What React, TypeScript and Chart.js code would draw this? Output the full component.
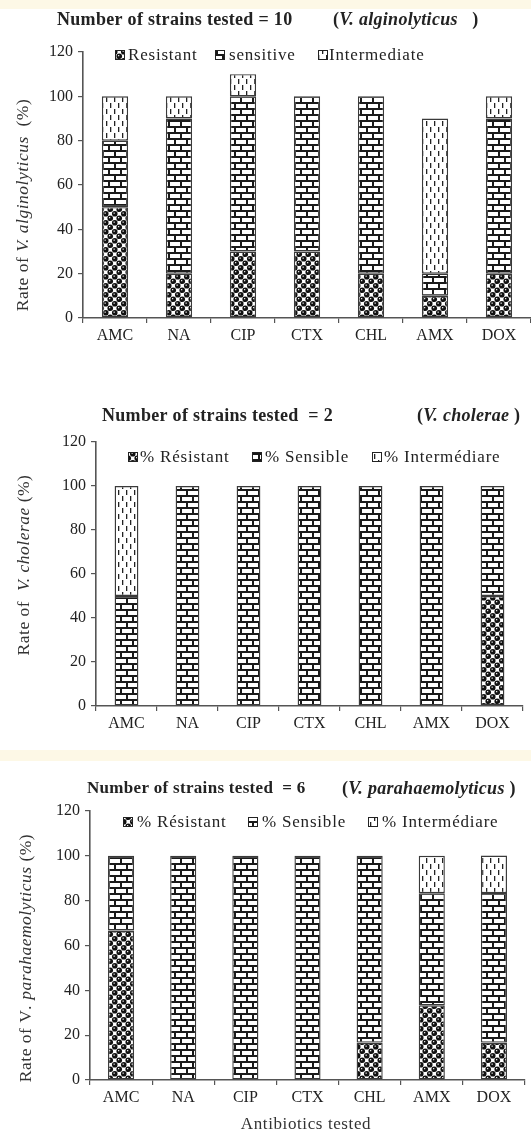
import React, { useEffect, useRef } from 'react';
import { Chart, registerables } from 'chart.js';

Chart.register(...registerables);

// ---------------- DATA ----------------
const categories = ['AMC', 'NA', 'CIP', 'CTX', 'CHL', 'AMX', 'DOX'];
const yMin = 0;
const yMax = 120;
const yStep = 20;

const algResistant = [50, 20, 30, 30, 20, 10, 20];
const algSensitive = [30, 70, 70, 70, 80, 10, 70];
const algIntermediate = [20, 10, 10, 0, 0, 70, 10];

const choResistant = [0, 0, 0, 0, 0, 0, 50];
const choSensitive = [50, 100, 100, 100, 100, 100, 50];
const choIntermediate = [50, 0, 0, 0, 0, 0, 0];

const parResistant = [66.7, 0, 0, 0, 16.7, 33.3, 16.7];
const parSensitive = [33.3, 100, 100, 100, 83.3, 50, 66.7];
const parIntermediate = [0, 0, 0, 0, 0, 16.7, 16.7];

const legendEn = ['Resistant', 'sensitive', 'Intermediate'];
const legendFr = ['% Résistant', '% Sensible', '% Intermédiare'];

// ---------------- STYLE ----------------
const FONT = "'Liberation Serif', 'Times New Roman', serif";
const INK = '#222';
const W = 531;

type Seg = { t: string; f: string };

function makePattern(kind: string): CanvasPattern | string {
  const c = document.createElement('canvas');
  const ctx = c.getContext('2d');
  if (!ctx) return '#888';
  if (kind === 'dots') {
    const S = 9;
    c.width = S; c.height = S;
    ctx.fillStyle = '#fff'; ctx.fillRect(0, 0, S, S);
    ctx.fillStyle = '#111';
    const h = S / 4;
    const pts: number[][] = [];
    for (const dx of [-S, 0, S]) for (const dy of [-S, 0, S]) {
      pts.push([h + dx, h + dy]);
      pts.push([3 * h + dx, 3 * h + dy]);
    }
    for (const [x, y] of pts) {
      ctx.beginPath(); ctx.arc(x, y, 2.8, 0, Math.PI * 2); ctx.fill();
    }
    ctx.fillStyle = '#fff';
    ctx.fillRect(h - 1.2, h - 1.2, 1.2, 1.2);
    ctx.fillRect(3 * h - 1.2, 3 * h - 1.2, 1.2, 1.2);
  } else if (kind === 'brick') {
    c.width = 12; c.height = 12;
    ctx.fillStyle = '#fff'; ctx.fillRect(0, 0, 12, 12);
    ctx.fillStyle = '#1a1a1a';
    ctx.fillRect(0, 0, 12, 2);
    ctx.fillRect(0, 6, 12, 2);
    ctx.fillRect(0, 0, 2, 6);
    ctx.fillRect(6, 6, 2, 6);
  } else {
    c.width = 8; c.height = 12;
    ctx.fillStyle = '#fff'; ctx.fillRect(0, 0, 8, 12);
    ctx.fillStyle = '#222';
    ctx.fillRect(2, 1, 1.3, 5);
    ctx.fillRect(6, 7, 1.3, 5);
  }
  return ctx.createPattern(c, 'repeat') || '#888';
}

function segWidth(ctx: CanvasRenderingContext2D, segs: Seg[]) {
  let w = 0;
  for (const s of segs) { ctx.font = s.f; w += ctx.measureText(s.t).width; }
  return w;
}
function drawSegs(ctx: CanvasRenderingContext2D, segs: Seg[], x: number, y: number) {
  let cx = x;
  for (const s of segs) {
    ctx.font = s.f;
    ctx.fillText(s.t, cx, y);
    cx += ctx.measureText(s.t).width;
  }
}

const f = (size: number, style = '') => `${style} ${size}px ${FONT}`.trim();
const TS = 18; // title size
const YS = 17.5; // y-title size

type Panel = {
  top: number; height: number;
  area: { left: number; right: number; top: number; bottom: number };
  bar: number;
  series: number[][];
  labels: string[];
  titleY: number;
  titleParts: { x: number; segs: Seg[] }[];
  legendY: number;
  legendItems: { box: number; text: number }[];
  yTitle: { x: number; y: number; segs: Seg[] };
  xTitle?: { x: number; y: number; text: string };
};

const panels: Panel[] = [
  {
    top: 0, height: 375,
    area: { left: 83, right: 531, top: 52, bottom: 318 },
    bar: 0.41,
    series: [algResistant, algSensitive, algIntermediate],
    labels: legendEn,
    titleY: 20,
    titleParts: [
      { x: 57, segs: [{ t: 'Number of strains tested = 10', f: f(TS, 'bold') }] },
      { x: 333, segs: [{ t: '(', f: f(TS, 'bold') }, { t: 'V. alginolyticus', f: f(TS, 'italic bold') }, { t: '   )', f: f(TS, 'bold') }] },
    ],
    legendY: 55,
    legendItems: [{ box: 115, text: 128 }, { box: 215, text: 229 }, { box: 318, text: 329 }],
    yTitle: { x: 23, y: 205, segs: [{ t: 'Rate of ', f: f(YS) }, { t: 'V. alginolyticus', f: f(YS, 'italic') }, { t: '  (%)', f: f(YS) }] },
  },
  {
    top: 375, height: 375,
    area: { left: 96, right: 523, top: 442, bottom: 706 },
    bar: 0.39,
    series: [choResistant, choSensitive, choIntermediate],
    labels: legendFr,
    titleY: 416,
    titleParts: [
      { x: 102, segs: [{ t: 'Number of strains tested  = 2', f: f(TS, 'bold') }] },
      { x: 417, segs: [{ t: '(', f: f(TS, 'bold') }, { t: 'V. cholerae', f: f(TS, 'italic bold') }, { t: ' )', f: f(TS, 'bold') }] },
    ],
    legendY: 457,
    legendItems: [{ box: 128, text: 140 }, { box: 252, text: 265 }, { box: 372, text: 384 }],
    yTitle: { x: 24, y: 565, segs: [{ t: 'Rate of  ', f: f(YS) }, { t: 'V. cholerae', f: f(YS, 'italic') }, { t: ' (%)', f: f(YS) }] },
  },
  {
    top: 761, height: 374,
    area: { left: 90, right: 525, top: 811, bottom: 1080 },
    bar: 0.42,
    series: [parResistant, parSensitive, parIntermediate],
    labels: legendFr,
    titleY: 789,
    titleParts: [
      { x: 87, segs: [{ t: 'Number of strains tested  = 6', f: f(17, 'bold') }] },
      { x: 342, segs: [{ t: '(', f: f(TS, 'bold') }, { t: 'V. parahaemolyticus', f: f(TS, 'italic bold') }, { t: ' )', f: f(TS, 'bold') }] },
    ],
    legendY: 822,
    legendItems: [{ box: 123, text: 137 }, { box: 248, text: 262 }, { box: 368, text: 382 }],
    yTitle: { x: 26, y: 958, segs: [{ t: 'Rate of V', f: f(YS) }, { t: '. parahaemolyticus', f: f(YS, 'italic') }, { t: ' (%)', f: f(YS) }] },
    xTitle: { x: 306, y: 1125, text: 'Antibiotics tested' },
  },
];

function BarPanel({ p }: { p: Panel }) {
  const ref = useRef<HTMLCanvasElement | null>(null);
  useEffect(() => {
    const canvas = ref.current;
    if (!canvas) return;
    const fills = [makePattern('dots'), makePattern('brick'), makePattern('dash')];
    const areaTop = p.area.top - p.top;
    const areaBottom = p.area.bottom - p.top;
    const xAxisH = p.height - areaBottom;

    const decor = {
      id: 'decor',
      afterDraw(chart: any) {
        const ctx: CanvasRenderingContext2D = chart.ctx;
        ctx.save();
        ctx.fillStyle = INK;
        ctx.textBaseline = 'middle';
        ctx.textAlign = 'left';
        (ctx as any).letterSpacing = '0.3px';
        for (const part of p.titleParts) drawSegs(ctx, part.segs, part.x, p.titleY - p.top);
        // legend
        p.legendItems.forEach((it, i) => {
          const y = p.legendY - p.top;
          ctx.fillStyle = fills[i] as any;
          ctx.fillRect(it.box, y - 5, 9, 9);
          ctx.strokeStyle = '#222';
          ctx.lineWidth = 1;
          ctx.strokeRect(it.box + 0.5, y - 4.5, 9, 9);
          ctx.fillStyle = INK;
          ctx.font = f(17);
          (ctx as any).letterSpacing = '0.8px';
          ctx.fillText(p.labels[i], it.text, y + 1);
        });
        // y title
        ctx.save();
        (ctx as any).letterSpacing = '0.5px';
        ctx.translate(p.yTitle.x, p.yTitle.y - p.top);
        ctx.rotate(-Math.PI / 2);
        const w = segWidth(ctx, p.yTitle.segs);
        ctx.fillStyle = '#333';
        drawSegs(ctx, p.yTitle.segs, -w / 2, 0);
        ctx.restore();
        // x title
        if (p.xTitle) {
          ctx.font = f(17);
          ctx.textAlign = 'center';
          (ctx as any).letterSpacing = '0.6px';
          ctx.fillStyle = '#333';
          ctx.fillText(p.xTitle.text, p.xTitle.x, p.xTitle.y - p.top);
        }
        (ctx as any).letterSpacing = '0px';
        ctx.restore();
      },
    };

    const chart = new Chart(canvas, {
      type: 'bar',
      data: {
        labels: categories,
        datasets: p.series.map((vals, i) => ({
          label: p.labels[i],
          data: vals,
          backgroundColor: fills[i] as any,
          borderColor: '#3a3a3a',
          borderWidth: 1.4,
          borderSkipped: false,
          barPercentage: p.bar,
          categoryPercentage: 1,
        })),
      },
      options: {
        responsive: false,
        animation: false,
        devicePixelRatio: 1,
        layout: { padding: { left: 0, top: areaTop, right: W - p.area.right, bottom: 0 } },
        plugins: { legend: { display: false }, tooltip: { enabled: false }, title: { display: false } },
        scales: {
          x: {
            stacked: true,
            grid: { display: true, drawOnChartArea: false, drawTicks: true, tickLength: 5, color: '#555', lineWidth: 1.2, offset: true },
            border: { display: true, color: '#555', width: 1.6 },
            ticks: { color: INK, font: { family: FONT, size: 16 }, padding: 3, maxRotation: 0, autoSkip: false },
            afterFit: (s: any) => { s.height = xAxisH; },
          },
          y: {
            stacked: true,
            min: yMin,
            max: yMax,
            ticks: { stepSize: yStep, color: INK, font: { family: FONT, size: 16 }, padding: 5 },
            grid: { display: true, drawOnChartArea: false, drawTicks: true, tickLength: 5, color: '#555', lineWidth: 1.2 },
            border: { display: true, color: '#555', width: 1.6 },
            afterFit: (s: any) => { s.width = p.area.left; },
          },
        },
      } as any,
      plugins: [decor],
    });
    return () => chart.destroy();
  }, [p]);
  return (
    <canvas
      ref={ref}
      width={W}
      height={p.height}
      style={{ position: 'absolute', left: 0, top: p.top, width: W, height: p.height }}
    />
  );
}

export default function App() {
  return (
    <div style={{ position: 'absolute', left: 0, top: 0, width: W, height: 1135, background: '#fff', overflow: 'hidden' }}>
      <div style={{ position: 'absolute', left: 0, top: 0, width: W, height: 9, background: '#fdf8e6' }} />
      <div style={{ position: 'absolute', left: 0, top: 750, width: W, height: 11, background: '#fdf8e6' }} />
      {panels.map((p, i) => (
        <BarPanel key={i} p={p} />
      ))}
    </div>
  );
}
